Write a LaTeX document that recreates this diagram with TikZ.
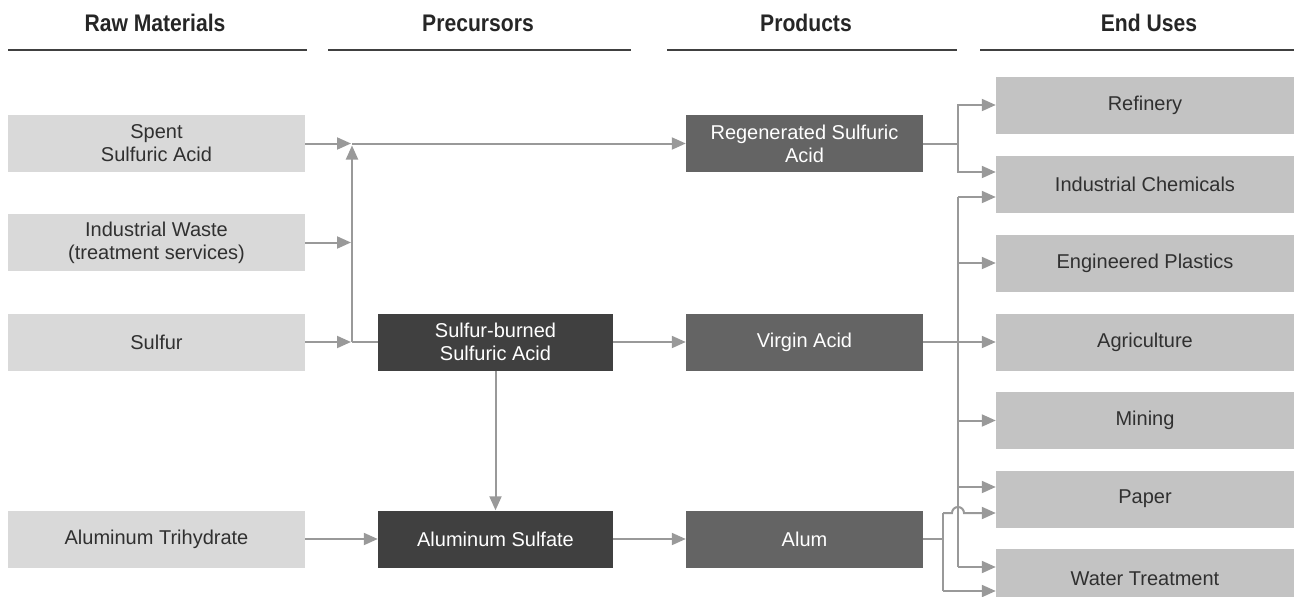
\documentclass[tikz,border=0pt]{standalone}
\usepackage{fontspec}
\setmainfont{Liberation Sans}
\newfontfamily\hdrfont{Liberation Sans}[FakeStretch=0.88]
\usetikzlibrary{arrows.meta}
\definecolor{rawc}{HTML}{D9D9D9}
\definecolor{endc}{HTML}{C3C3C3}
\definecolor{prec}{HTML}{404040}
\definecolor{prodc}{HTML}{646464}
\definecolor{linec}{HTML}{999999}
\definecolor{hdrc}{HTML}{262626}
\definecolor{txtc}{HTML}{303030}
\tikzset{
  box/.style={rectangle, inner sep=0pt, align=center, minimum height=57pt,
    font=\fontsize{20}{23}\selectfont},
  rawbox/.style={box, fill=rawc, text=txtc, minimum width=297pt},
  prebox/.style={box, fill=prec, text=white, minimum width=235pt},
  prodbox/.style={box, fill=prodc, text=white, minimum width=237pt},
  endbox/.style={box, fill=endc, text=txtc, minimum width=298pt},
  hdr/.style={font=\hdrfont\bfseries\fontsize{24}{27}\selectfont, text=hdrc, inner sep=0pt, anchor=base},
  hline/.style={draw=prec, line width=2.5pt},
  conn/.style={draw=linec, line width=2pt},
  arr/.style={conn, -{Triangle[length=14pt,width=12pt]}},
}
\begin{document}
\begin{tikzpicture}[x=1pt,y=-1pt]
\useasboundingbox (0,0) rectangle (1294,597);
% headers
\node[hdr] (h1) at (155,31) {Raw Materials};
\node[hdr] (h2) at (478,31) {Precursors};
\node[hdr] (h3) at (806,31) {Products};
\node[hdr] (h4) at (1149,31) {End Uses};
\draw[hline] (8,50) -- (307,50);
\draw[hline] (328,50) -- (631,50);
\draw[hline] (667,50) -- (957,50);
\draw[hline] (980,50) -- (1294,50);
% raw materials
\node[rawbox] (spent) at (156.5,143.5) {Spent\\Sulfuric Acid};
\node[rawbox] (waste) at (156.5,242.5) {Industrial Waste\\(treatment services)};
\node[rawbox] (sulfur) at (156.5,342) {Sulfur};
\node[rawbox] (ath) at (156.5,539) {Aluminum Trihydrate};
% precursors
\node[prebox] (sba) at (495.5,342) {Sulfur-burned\\Sulfuric Acid};
\node[prebox] (als) at (495.5,539) {Aluminum Sulfate};
% products
\node[prodbox] (regen) at (804.5,143.5) {Regenerated Sulfuric\\Acid};
\node[prodbox] (virgin) at (804.5,342) {Virgin Acid};
\node[prodbox] (alum) at (804.5,539) {Alum};
% end uses
\node[endbox] (refinery) at (1145,105) {Refinery};
\node[endbox] (indchem) at (1145,184) {Industrial Chemicals};
\node[endbox] (plastics) at (1145,263) {Engineered Plastics};
\node[endbox] (agri) at (1145,342) {Agriculture};
\node[endbox] (mining) at (1145,420.5) {Mining};
\node[endbox] (paper) at (1145,499) {Paper};
\node[endbox, minimum height=60pt] (water) at (1145,579) {Water Treatment};
% coordinates
\coordinate (jtop) at (352,143.5);
\coordinate (jbot) at (352,342);
\coordinate (rb) at (958,143.5);
\coordinate (vtop) at (958,197);
\coordinate (vbot) at (958,567);
\coordinate (ab) at (943,539);
\coordinate (atop) at (943,513);
\coordinate (abot) at (943,591);
% raw -> junction
\draw[arr] (spent.east) -- ([xshift=-1pt]jtop);
\draw[arr] (waste.east) -- (351,242.5);
\draw[arr] (sulfur.east) -- ([xshift=-1pt]jbot);
\draw[arr] (jbot) -- ([yshift=-2pt]jtop);
\draw[conn] (jbot) -- (sba.west);
\draw[arr] (jtop) -- (regen.west);
% precursors
\draw[arr] (sba.east) -- (virgin.west);
\draw[arr] (sba.south) -- (als.north);
\draw[arr] (ath.east) -- (als.west);
\draw[arr] (als.east) -- (alum.west);
% regenerated bus
\draw[conn] (regen.east) -- (rb);
\draw[arr] (rb) |- (refinery.west);
\draw[arr] (rb) |- ([yshift=12pt]indchem.west);
% virgin bus
\draw[conn] (vtop) -- (vbot);
\draw[arr] (vtop) -- ([yshift=-13pt]indchem.west);
\draw[arr] (vtop |- plastics.west) -- (plastics.west);
\draw[arr] (virgin.east) -- (agri.west);
\draw[arr] (vtop |- mining.west) -- (mining.west);
\draw[arr] ([yshift=12pt]paper.west -| vtop) -- ([yshift=12pt]paper.west);
\draw[arr] (vbot) -- ([yshift=12pt]water.west);
% alum bus
\draw[conn] (alum.east) -- (ab);
\draw[conn] (atop) -- (abot);
\draw[arr] (atop) -- (952,513) arc[start angle=180,end angle=0,radius=6pt] -- ([yshift=-14pt]paper.west);
\draw[arr] (abot) -- ([yshift=-12pt]water.west);
\end{tikzpicture}
\end{document}
